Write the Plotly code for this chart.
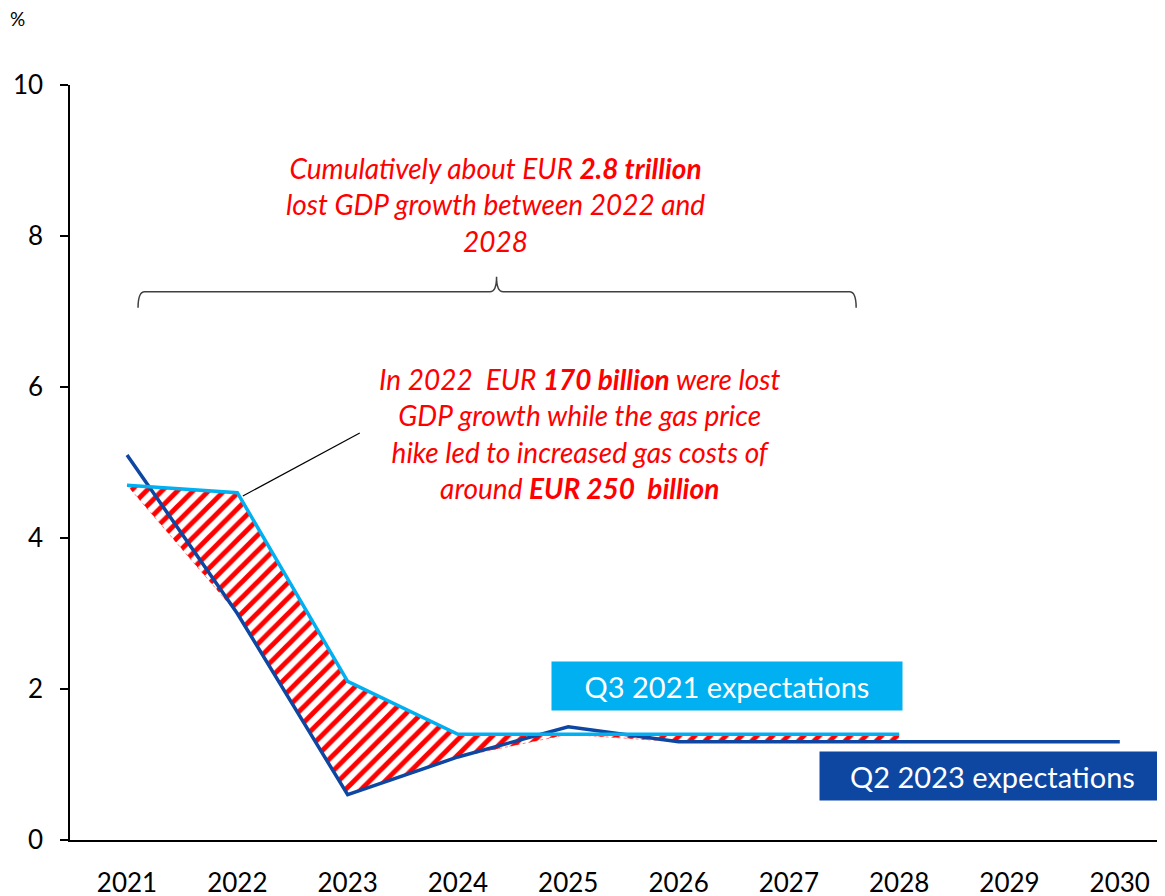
import plotly.graph_objects as go

years = [2021, 2022, 2023, 2024, 2025, 2026, 2027, 2028, 2029, 2030]
q3_2021 = [4.7, 4.6, 2.1, 1.4, 1.4, 1.4, 1.4, 1.4]          # 2021-2028
q2_2023 = [5.1, 3.0, 0.6, 1.1, 1.5, 1.3, 1.3, 1.3, 1.3, 1.3]  # 2021-2030
y_ticks = [0, 2, 4, 6, 8, 10]

LIGHT = "#00B0F0"
DARK = "#0D47A1"
RED = "#FF0000"
FONT = "Lato"

n = len(q3_2021)
x_q3 = years[:n]
base = [min(a, b) for a, b in zip(q3_2021, q2_2023[:n])]

fig = go.Figure()
# invisible lower boundary of the lost-growth area
fig.add_trace(go.Scatter(x=x_q3, y=base, mode="lines",
                         line=dict(color="rgba(0,0,0,0)", width=0),
                         hoverinfo="skip", showlegend=False))
# hatched area up to Q3 2021 expectations
fig.add_trace(go.Scatter(x=x_q3, y=q3_2021, mode="lines", fill="tonexty",
                         fillcolor="white",
                         fillpattern=dict(shape="/", fgcolor=RED, bgcolor="white",
                                          fgopacity=1, size=11, solidity=0.45),
                         line=dict(color="rgba(0,0,0,0)", width=0),
                         hoverinfo="skip", showlegend=False))
# faint dashed edge of the area
fig.add_trace(go.Scatter(x=x_q3, y=base, mode="lines",
                         line=dict(color="rgba(255,0,0,0.5)", width=1, dash="dot"),
                         hoverinfo="skip", showlegend=False))
fig.add_trace(go.Scatter(x=years, y=q2_2023, mode="lines", name="Q2 2023 expectations",
                         line=dict(color=DARK, width=3.5), showlegend=False))
fig.add_trace(go.Scatter(x=x_q3, y=q3_2021, mode="lines", name="Q3 2021 expectations",
                         line=dict(color=LIGHT, width=3.5), showlegend=False))

# brace over 2021-2028 period
bx0, bx1, bxm = 2021.1, 2027.61, 2024.35
yb, yt, ytip = 7.05, 7.26, 7.46
path = (f"M {bx0},{yb} Q {bx0},{yt} {bx0+0.06},{yt} L {bxm-0.06},{yt} "
        f"Q {bxm},{yt} {bxm},{ytip} Q {bxm},{yt} {bxm+0.06},{yt} "
        f"L {bx1-0.06},{yt} Q {bx1},{yt} {bx1},{yb}")
fig.add_shape(type="path", path=path, xref="x", yref="y",
              line=dict(color="#404040", width=1.5))

# leader line
fig.add_shape(type="line", x0=2022.05, y0=4.556, x1=2023.11, y1=5.39, xref="x", yref="y",
              line=dict(color="black", width=1.2))

fig.add_annotation(x=2024.34, y=8.42, xref="x", yref="y", showarrow=False,
                   text="<i>Cumulatively about EUR <b>2.8 trillion</b><br>lost GDP growth between 2022 and<br>2028</i>",
                   font=dict(family=FONT, size=28, color=RED), align="center")
fig.add_annotation(x=2025.10, y=5.39, xref="x", yref="y", showarrow=False,
                   text="<i>In 2022  EUR <b>170 billion</b> were lost<br>GDP growth while the gas price<br>hike led to increased gas costs of<br>around <b>EUR 250  billion</b></i>",
                   font=dict(family=FONT, size=28, color=RED), align="center")

# series labels
fig.add_annotation(x=2026.44, y=2.04, xref="x", yref="y", showarrow=False,
                   text="Q3 2021 expectations", font=dict(family=FONT, size=29, color="white"),
                   bgcolor=LIGHT, width=350, height=48, borderpad=0)
fig.add_annotation(x=2028.845, y=0.848, xref="x", yref="y", showarrow=False,
                   text="Q2 2023 expectations", font=dict(family=FONT, size=29, color="white"),
                   bgcolor=DARK, width=345, height=48, borderpad=0)

fig.add_annotation(x=-0.0475, y=1.0, xref="paper", yref="paper", xanchor="center", yanchor="middle",
                   yshift=67, text="%", showarrow=False,
                   font=dict(family=FONT, size=19, color="black"))

fig.update_layout(
    width=1165, height=896,
    margin=dict(l=62, r=8, t=77, b=64),
    paper_bgcolor="white", plot_bgcolor="white",
    font=dict(family=FONT, size=26, color="black"),
    showlegend=False,
)
fig.update_xaxes(range=[2020.483, 2030.41], tickvals=years, ticktext=[str(y) for y in years],
                 showgrid=False, zeroline=False, showline=True, linecolor="black", linewidth=2,
                 ticks="", ticklabelstandoff=19, tickfont=dict(size=26), automargin=False)
fig.update_yaxes(range=[0, 10], tickvals=y_ticks, showgrid=False, zeroline=False,
                 showline=True, linecolor="black", linewidth=1.5,
                 ticks="outside", ticklen=8, tickcolor="black", tickwidth=1.5,
                 ticklabelstandoff=12, tickfont=dict(size=26), automargin=False)

fig.write_html("out.html")
